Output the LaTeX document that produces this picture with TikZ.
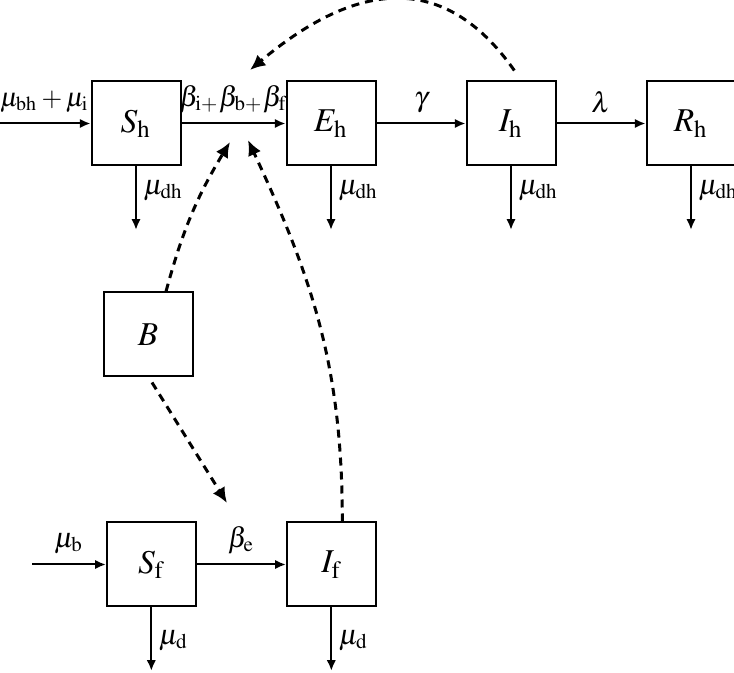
\documentclass[tikz,border=0pt]{standalone}
\usepackage{mathptmx}
\usetikzlibrary{positioning,arrows.meta}
\tikzset{
  comp/.style={rectangle,draw,line width=0.6pt,
    minimum width=26.7pt,minimum height=25.2pt,inner sep=0pt},
  flow/.style={-{Latex[length=3.2pt,width=2.8pt]},line width=0.6pt},
  infect/.style={-{Latex[length=4.6pt,width=4.2pt]},line width=0.9pt,
    dash pattern=on 2.4pt off 1.8pt},
  rate/.style={font=\fontsize{8.5}{10}\selectfont,inner sep=2pt}
}
\begin{document}
\begin{tikzpicture}[x=0.3pt,y=0.3pt]
  \useasboundingbox (0,0) rectangle (734,672);
  % human compartments
  \node[comp] (Sh) at (136,548.5) {$S_{\mathrm{h}}$};
  \node[comp] (Eh) [right=31.2pt of Sh] {$E_{\mathrm{h}}$};
  \node[comp] (Ih) [right=26.7pt of Eh] {$I_{\mathrm{h}}$};
  \node[comp] (Rh) [right=26.7pt of Ih] {$R_{\mathrm{h}}$};
  % environment and flies
  \node[comp] (B) [below=37.5pt of Sh, xshift=3.6pt] {$B$};
  \node[comp] (Sf) [below=43.2pt of B, xshift=1pt] {$S_{\mathrm{f}}$};
  \node[comp] (If) [right=26.7pt of Sf] {$I_{\mathrm{f}}$};
  % free ends
  \coordinate (inSh) at ([xshift=-27.5pt]Sh.west);
  \coordinate (inSf) at ([xshift=-22.1pt]Sf.west);
  \foreach \n in {Sh,Eh,Ih,Rh,Sf,If}
    \coordinate (\n-out) at ([yshift=-19pt]\n.south);
  \coordinate (tipIh) at (250,602);
  \coordinate (tipB) at (230,530);
  \coordinate (tipIf) at (248,532);
  \coordinate (tipSf) at (227,169);
  % flows
  \draw[flow] (inSh) -- (Sh) node[rate,font=\fontsize{8}{10}\selectfont,above=1pt,midway]
    {$\mu_{\mathrm{bh}}+\mu_{\mathrm{i}}$};
  \draw[flow] (Sh) -- (Eh) node[rate,above=1pt,midway]
    {$\beta_{\mathrm{i}+}\beta_{\mathrm{b}+}\beta_{\mathrm{f}}$};
  \draw[flow] (Eh) -- (Ih) node[rate,above=1pt,midway] {$\gamma$};
  \draw[flow] (Ih) -- (Rh) node[rate,above=1pt,midway] {$\lambda$};
  \draw[flow] (inSf) -- (Sf) node[rate,above=1pt,midway] {$\mu_{\mathrm{b}}$};
  \draw[flow] (Sf) -- (If) node[rate,above=1pt,midway] {$\beta_{\mathrm{e}}$};
  \foreach \n in {Sh,Eh,Ih,Rh}
    \draw[flow] (\n.south) -- (\n-out) node[rate,right,pos=.38] {$\mu_{\mathrm{dh}}$};
  \foreach \n in {Sf,If}
    \draw[flow] (\n.south) -- (\n-out) node[rate,right,pos=.52] {$\mu_{\mathrm{d}}$};
  % infection routes
  \draw[infect] ([xshift=1pt,yshift=3pt]Ih.north) to[out=125,in=40,looseness=1.25] (tipIh);
  \draw[infect] ([xshift=5.4pt]B.north) to[bend left=8] (tipB);
  \draw[infect] ([xshift=3.3pt]If.north) to[out=90,in=-65] (tipIf);
  \draw[infect] ([xshift=1.2pt,yshift=-1.5pt]B.south) -- (tipSf);
\end{tikzpicture}
\end{document}
